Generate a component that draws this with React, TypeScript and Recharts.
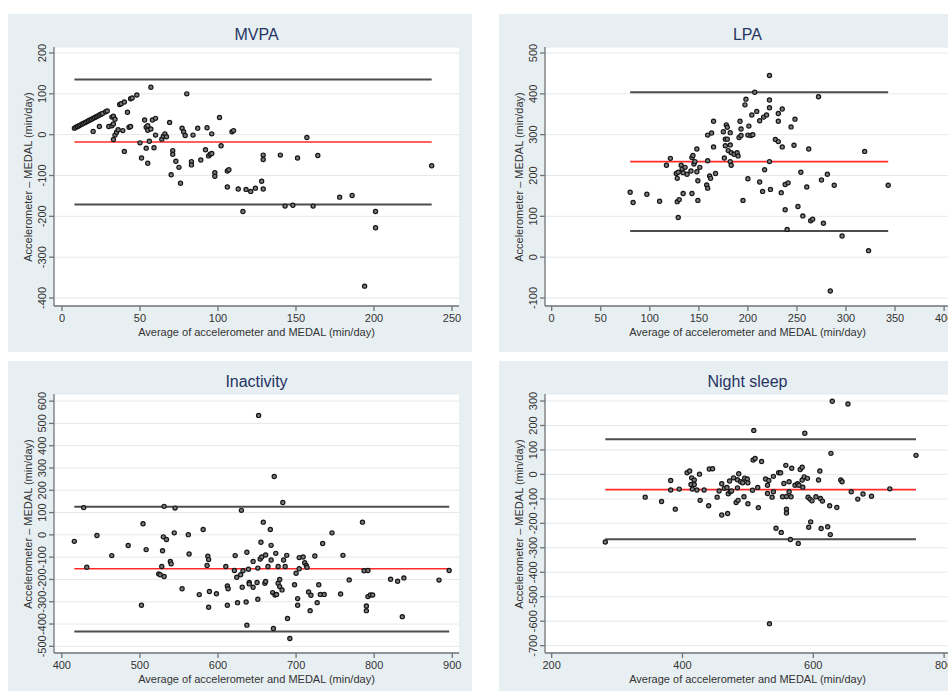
import React from "react"
import { ScatterChart, Scatter, XAxis, YAxis, CartesianGrid, ReferenceLine } from "recharts"

// [average, difference] pairs
const mvpaPoints: [number, number][] = [
  [8, 16], [9, 18], [10, 20], [11, 22], [12, 24], [13, 26], [14, 28], [15, 30], [16, 32], [17, 34],
  [18, 36], [19, 38], [20, 40], [21, 42], [22, 44], [23, 46], [24, 48], [25, 50], [26, 52], [28, 56],
  [29, 58], [37, 74], [38, 76], [40, 80], [44, 88], [45, 90], [48, 97],
  [20, 8], [24, 20], [30, 20], [32, 22], [32, 43], [33, 45], [33, 26], [34, 38], [33, -12], [34, -1],
  [35, 6], [36, 12], [39, 10], [40, -41], [42, 55], [43, 18], [44, 20], [50, -20], [51, -57], [53, 36],
  [54, -33], [54, 18], [55, 11], [55, 22], [55, -70], [56, -16], [57, 14], [57, 116], [58, 36], [59, -32],
  [60, 40], [60, -1], [64, -11], [65, -4], [66, 2], [67, -5], [69, 30], [70, -98], [71, -39], [71, -48],
  [73, -65], [75, -80], [76, -119], [77, 16], [78, 7], [79, -2], [80, 100], [83, -66], [83, -74], [84, -1],
  [87, 16], [89, -62], [92, -37], [93, 17], [94, -52], [95, -48], [96, -46], [96, 2], [98, -93], [98, -102],
  [101, 42], [102, -27], [106, -89], [107, -86], [106, -128], [109, 7], [110, 10], [113, -133], [116, -188], [118, -134],
  [121, -139], [124, -131], [128, -114], [129, -50], [129, -61], [129, -133], [140, -50], [143, -175], [148, -173], [151, -57],
  [157, -7], [161, -175], [164, -51], [178, -153], [186, -149], [201, -188], [201, -228], [194, -371], [237, -76],
]

const lpaPoints: [number, number][] = [
  [80, 159], [83, 134], [97, 154], [110, 137], [117, 225], [121, 242], [128, 193], [127, 205], [129, 208], [129, 97],
  [128, 136], [130, 141], [132, 225], [133, 216], [134, 156], [134, 207], [136, 220], [138, 203], [142, 211], [143, 156],
  [143, 244], [144, 249], [145, 228], [146, 234], [148, 265], [148, 209], [149, 187], [149, 139], [151, 220], [158, 177],
  [159, 169], [159, 299], [163, 304], [159, 236], [161, 199], [162, 193], [165, 270], [165, 333], [167, 205], [175, 307],
  [177, 289], [177, 273], [176, 243], [178, 324], [179, 318], [179, 289], [180, 261], [182, 275], [183, 256], [182, 305],
  [182, 234], [183, 225], [186, 252], [189, 256], [190, 248], [192, 333], [193, 314], [191, 293], [193, 298], [197, 373],
  [198, 387], [201, 321], [200, 299], [203, 298], [205, 300], [200, 192], [195, 139], [204, 348], [207, 404], [209, 357],
  [212, 334], [212, 184], [215, 161], [216, 343], [217, 214], [219, 348], [222, 445], [222, 385], [222, 366], [222, 234],
  [223, 166], [228, 288], [231, 283], [231, 352], [231, 333], [234, 158], [235, 363], [235, 270], [238, 116], [238, 178],
  [241, 182], [240, 68], [244, 319], [247, 274], [248, 338], [251, 124], [254, 208], [256, 101], [260, 172], [262, 265],
  [264, 89], [266, 93], [272, 393], [275, 189], [277, 83], [281, 203], [288, 176], [296, 52], [319, 259], [323, 16],
  [284, -83], [343, 176],
]

const inactivityPoints: [number, number][] = [
  [416, -29], [428, 122], [432, -145], [445, -3], [464, -93], [485, -48], [504, 50], [502, -316], [508, -66], [524, -175],
  [526, -179], [529, -71], [528, -142], [530, -9], [531, 128], [531, -187], [534, -21], [539, -119], [540, -130], [545, 120],
  [544, 9], [554, -242], [562, 1], [563, -86], [576, -268], [581, 24], [587, -96], [588, -111], [586, -137], [588, -325],
  [589, -254], [598, -264], [610, -142], [612, -229], [613, -242], [612, -316], [621, -160], [622, -93], [624, -190], [625, -304],
  [629, -179], [630, 110], [631, -235], [632, -161], [636, -301], [637, -78], [637, -405], [639, -154], [640, -214], [640, -220],
  [645, -235], [645, -119], [650, -214], [651, -289], [651, -149], [652, 536], [654, -108], [655, -33], [656, -99], [658, 57],
  [660, -217], [661, -209], [661, -90], [664, -142], [667, 24], [668, -47], [668, -113], [670, -259], [671, -420], [672, 262],
  [673, -270], [674, -83], [675, -267], [677, -142], [677, -217], [679, -232], [679, -200], [682, -247], [683, 145], [684, -113],
  [686, -142], [688, -92], [689, -375], [692, -465], [698, -224], [700, -172], [702, -286], [702, -316], [704, -102], [704, -152],
  [709, -99], [711, -125], [713, -137], [714, -145], [716, -256], [718, -340], [719, -271], [724, -95], [727, -304], [729, -224],
  [731, -267], [734, -39], [736, -267], [746, 9], [757, -265], [760, -92], [768, -202], [785, 57], [787, -161], [790, -340],
  [790, -319], [792, -160], [792, -277], [795, -270], [798, -270], [821, -199], [830, -208], [836, -367], [838, -193], [883, -203],
  [896, -160],
]

const sleepPoints: [number, number][] = [
  [282, -276], [343, -93], [368, -111], [382, -25], [382, -64], [389, -142], [395, -60], [407, 7], [411, 14], [414, -14],
  [413, -41], [418, -23], [418, -41], [415, -60], [422, -64], [426, 1], [427, -106], [433, -64], [440, -128], [441, 22],
  [446, 23], [453, -93], [456, -68], [460, -38], [460, -166], [464, -57], [468, -53], [469, -160], [470, -79], [472, -27],
  [473, -71], [475, -68], [478, -14], [482, -115], [484, -22], [484, -55], [485, -106], [486, 3], [489, -30], [492, -34],
  [494, -91], [495, -15], [499, -19], [500, -34], [500, -120], [507, -65], [508, 59], [511, 65], [509, 180], [515, -53],
  [516, -136], [521, 53], [527, -19], [530, -44], [530, -78], [532, -25], [537, -93], [539, -71], [539, -8], [533, -610],
  [543, -220], [547, 7], [550, 7], [551, -237], [553, -91], [555, -37], [558, 37], [559, -142], [559, -158], [559, -90],
  [563, -30], [563, -71], [565, -266], [566, -91], [567, 25], [572, -44], [576, -38], [577, -282], [578, -44], [580, 20],
  [583, 29], [583, -23], [584, -52], [587, 168], [586, -10], [591, -16], [593, -216], [592, -93], [595, -101], [596, -194],
  [598, -108], [604, -91], [608, -23], [610, 14], [611, -98], [612, -221], [614, -109], [622, -214], [625, -128], [626, -246],
  [627, 86], [629, 299], [636, -135], [642, -23], [644, -30], [653, 288], [658, -71], [668, -101], [676, -80], [689, -89],
  [717, -59], [757, 78],
]

// [upper limit, mean difference, lower limit]
const mvpaLimits = [135, -18, -171]
const lpaLimits = [404, 234, 64]
const inactivityLimits = [126, -152, -433]
const sleepLimits = [144, -62, -265]

// x-range covered by the limit lines
const mvpaSpan = [8, 237]
const lpaSpan = [80, 343]
const inactivitySpan = [416, 896]
const sleepSpan = [282, 757]

const mvpaXTicks = [0, 50, 100, 150, 200, 250]
const mvpaYTicks = [-400, -300, -200, -100, 0, 100, 200]
const lpaXTicks = [0, 50, 100, 150, 200, 250, 300, 350, 400]
const lpaYTicks = [-100, 0, 100, 200, 300, 400, 500]
const inactivityXTicks = [400, 500, 600, 700, 800, 900]
const inactivityYTicks = [-500, -400, -300, -200, -100, 0, 100, 200, 300, 400, 500, 600]
const sleepXTicks = [200, 400, 600, 800]
const sleepYTicks = [-700, -600, -500, -400, -300, -200, -100, 0, 100, 200, 300]

const FONT = '"Liberation Sans", Arial, sans-serif'
const X_TITLE = "Average of accelerometer and MEDAL (min/day)"
const Y_TITLE = "Accelerometer \u2013 MEDAL (min/day)"

const PW = 464
const PLOT_L = 46
const PLOT_T = 33
const PLOT_W = 405
const PLOT_H = 259

const YTick = (props: any) => {
  const { x, y, payload } = props
  const cx = x - 5
  return (
    <text x={cx} y={y} textAnchor="middle" dominantBaseline="central" fontSize={11} fill="#333"
      fontFamily={FONT} transform={`rotate(-90 ${cx} ${y})`}>
      {payload.value}
    </text>
  )
}

const Dot = (props: any) => (
  <circle cx={props.cx} cy={props.cy} r={2.1} fill="#7c7c7c" stroke="#151515" strokeWidth={1.2} />
)

interface PanelProps {
  left: number
  top: number
  height: number
  title: string
  points: [number, number][]
  limits: number[]
  span: number[]
  xDomain: [number, number]
  yDomain: [number, number]
  xTicks: number[]
  yTicks: number[]
}

function Panel({ left, top, height, title, points, limits, span, xDomain, yDomain, xTicks, yTicks }: PanelProps) {
  const data = points.map(([x, y]) => ({ x, y }))
  const lineColor = ["#4d4d4d", "#ff2a2a", "#4d4d4d"]
  const lineWidth = [2, 1.6, 2]
  return (
    <>
      <div style={{ position: "absolute", left, top, width: PW, height, background: "#e8eff2" }} />
      <div style={{ position: "absolute", left: left + PLOT_L, top: top + PLOT_T, width: PLOT_W, height: PLOT_H, background: "#fff" }} />
      <div style={{ position: "absolute", left: left + PLOT_L, top: top + 11, width: PLOT_W, textAlign: "center",
        fontFamily: FONT, fontSize: 16, lineHeight: "20px", color: "#253462" }}>{title}</div>
      <div style={{ position: "absolute", left: left + PLOT_L, top: top + PLOT_T + PLOT_H + 19, width: PLOT_W, textAlign: "center",
        fontFamily: FONT, fontSize: 11, lineHeight: "14px", color: "#333", whiteSpace: "nowrap" }}>{X_TITLE}</div>
      <div style={{ position: "absolute", left: left + 20, top: top + PLOT_T + PLOT_H / 2,
        transform: "translate(-50%, -50%) rotate(-90deg)", fontFamily: FONT, fontSize: 11, lineHeight: "14px",
        color: "#333", whiteSpace: "nowrap" }}>{Y_TITLE}</div>
      <div style={{ position: "absolute", left, top }}>
        <ScatterChart width={PW} height={338} margin={{ top: PLOT_T, right: PW - PLOT_L - PLOT_W, left: 6, bottom: 6 }}>
          <CartesianGrid horizontal vertical={false} stroke="#e2eaed" strokeWidth={1} />
          <XAxis type="number" dataKey="x" domain={xDomain} allowDataOverflow ticks={xTicks} interval={0}
            height={40} tickSize={5} tickMargin={3} stroke="#6f7477" strokeWidth={1.3}
            tick={{ fontSize: 11, fill: "#333", fontFamily: FONT }} />
          <YAxis type="number" dataKey="y" domain={yDomain} allowDataOverflow ticks={yTicks} interval={0}
            width={40} tickSize={5} tickMargin={2} stroke="#6f7477" strokeWidth={1.3} tick={<YTick />} />
          {limits.map((v, i) => (
            <ReferenceLine key={i} segment={[{ x: span[0], y: v }, { x: span[1], y: v }]}
              stroke={lineColor[i]} strokeWidth={lineWidth[i]} ifOverflow="visible" />
          ))}
          <Scatter data={data} shape={<Dot />} isAnimationActive={false} />
        </ScatterChart>
      </div>
    </>
  )
}

export default function App() {
  return (
    <div style={{ position: "fixed", left: 0, top: 0, width: 948, height: 691, overflow: "hidden", background: "#fff" }}>
      <Panel left={8} top={14} height={338} title="MVPA" points={mvpaPoints} limits={mvpaLimits} span={mvpaSpan}
        xDomain={[-5.1, 254.5]} yDomain={[-419.6, 214.7]} xTicks={mvpaXTicks} yTicks={mvpaYTicks} />
      <Panel left={499} top={14} height={338} title="LPA" points={lpaPoints} limits={lpaLimits} span={lpaSpan}
        xDomain={[-6.8, 406]} yDomain={[-119.6, 514.7]} xTicks={lpaXTicks} yTicks={lpaYTicks} />
      <Panel left={8} top={361} height={330} title="Inactivity" points={inactivityPoints} limits={inactivityLimits}
        span={inactivitySpan} xDomain={[390, 908.6]} yDomain={[-530, 632]} xTicks={inactivityXTicks} yTicks={inactivityYTicks} />
      <Panel left={499} top={361} height={330} title="Night sleep" points={sleepPoints} limits={sleepLimits}
        span={sleepSpan} xDomain={[189.8, 809]} yDomain={[-730, 328.7]} xTicks={sleepXTicks} yTicks={sleepYTicks} />
    </div>
  )
}
